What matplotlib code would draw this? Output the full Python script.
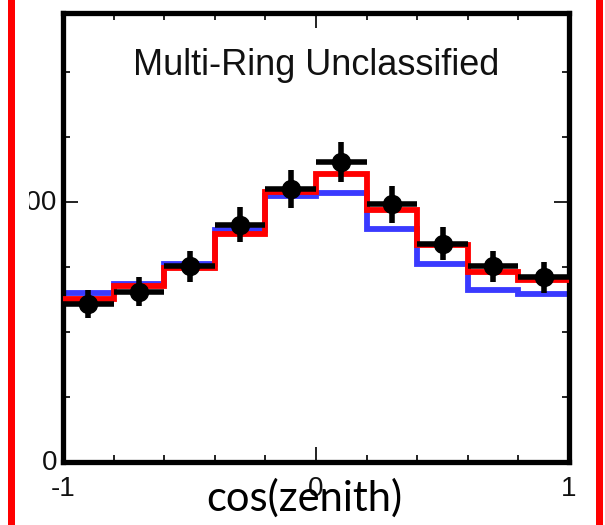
import matplotlib
matplotlib.use("Agg")
import matplotlib.pyplot as plt
import numpy as np
from matplotlib.patches import Rectangle
from matplotlib.transforms import Bbox, TransformedBbox

# ---- data ----
bin_edges = [-1.0, -0.8, -0.6, -0.4, -0.2, 0.0, 0.2, 0.4, 0.6, 0.8, 1.0]
blue_mc = [129.7, 136.9, 151.9, 178.1, 204.4, 206.7, 179.4, 151.9, 131.8, 129.2]
red_mc = [125.3, 134.9, 148.8, 175.0, 207.5, 221.2, 193.6, 166.5, 145.9, 139.5]
data_vals = [121.5, 131.0, 150.3, 182.5, 209.8, 230.7, 198.2, 167.9, 150.3, 142.0]
data_err = [10.8, 11.2, 12.2, 13.4, 14.5, 15.2, 14.3, 12.5, 12.0, 11.8]
title_text = "Multi-Ring Unclassified"
xlabel_text = "cos(zenith)"
xtick_labels = ["-1", "0", "1"]
ytick_labels = ["0", "200"]

W, H = 605, 525
fig = plt.figure(figsize=(W / 100, H / 100), dpi=100)
ax = fig.add_axes([63 / W, (H - 461.5) / H, (569 - 63) / W, (461.5 - 12.5) / H])

centers = [(bin_edges[i] + bin_edges[i + 1]) / 2 for i in range(len(bin_edges) - 1)]
halfw = [(bin_edges[i + 1] - bin_edges[i]) / 2 for i in range(len(bin_edges) - 1)]

ax.stairs(blue_mc, bin_edges, baseline=None, color="#3a3aff", linewidth=4.2, zorder=2)
ax.stairs(red_mc, bin_edges, baseline=None, color="#ff0000", linewidth=4.2, zorder=3)
ax.errorbar(centers, data_vals, xerr=halfw, yerr=data_err, fmt="o", color="black",
            markersize=13, elinewidth=4.0, capsize=0, zorder=4)

ax.set_xlim(-1, 1)
ax.set_ylim(0, 346)

for s in ax.spines.values():
    s.set_linewidth(3.8)
    s.set_capstyle("projecting")

ax.set_xticks([-1, 0, 1])
ax.set_xticks(np.arange(-1, 1.01, 0.2), minor=True)
ax.set_yticks([0, 200])
ax.set_yticks(np.arange(0, 346, 50), minor=True)
ax.tick_params(which="both", direction="in", top=True, right=True,
               labelbottom=False, labelleft=False, color="#222222", width=1.4)
ax.tick_params(which="major", length=11)
ax.tick_params(which="minor", length=5)

clip = TransformedBbox(Bbox.from_extents(28.5 / W, 0, 1, 1), fig.transFigure)
fs = 20
for val, lab in zip([0, 200], ytick_labels):
    ypix = 461.5 - val / 346 * (461.5 - 12.5)
    t = fig.text(57 / W, 1 - (ypix + 1) / H, lab, ha="right", va="center",
                 fontsize=fs, family="Liberation Sans", color="#111111")
    t.set_clip_box(clip)
    t.set_clip_on(True)

for val, lab in zip([-1, 0, 1], xtick_labels):
    xpix = 63 + (val + 1) / 2 * (569 - 63)
    fig.text(xpix / W, 1 - 476 / H, lab, ha="center", va="top",
             fontsize=fs, family="Liberation Sans", color="#111111")

fig.text(316 / W, 1 - 75 / H, title_text, ha="center", va="baseline",
         fontsize=26, family="Liberation Sans", color="#111111")

fig.text(304 / W, 1 - 511 / H, xlabel_text, ha="center", va="baseline",
         fontsize=30, family="Lato", color="black")

fig.patches.append(Rectangle((8 / W, 0), 7 / W, 1, transform=fig.transFigure,
                             facecolor="#ff0000", edgecolor="none", zorder=10))
fig.patches.append(Rectangle((596 / W, 0), 7 / W, 1, transform=fig.transFigure,
                             facecolor="#ff0000", edgecolor="none", zorder=10))

fig.savefig("out.png", dpi=100)
